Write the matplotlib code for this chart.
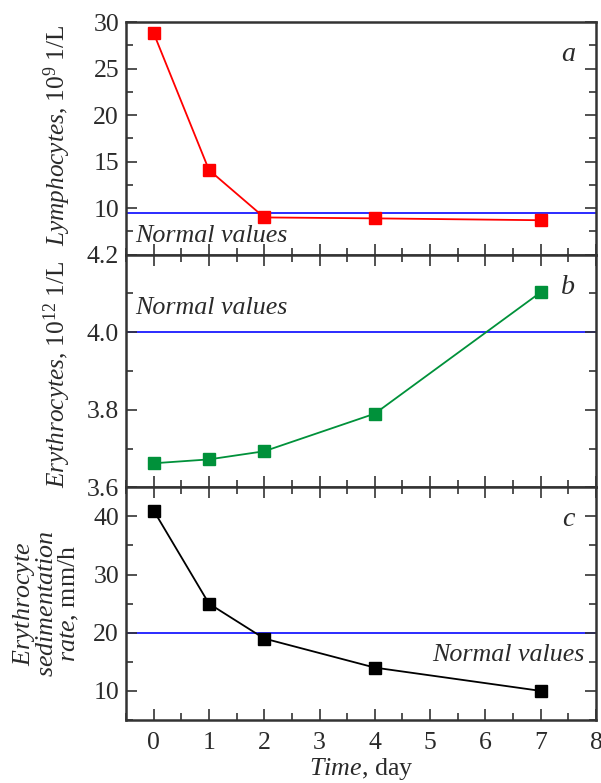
import numpy as np
import matplotlib
matplotlib.use("Agg")
import matplotlib.pyplot as plt
from matplotlib.ticker import MultipleLocator

plt.rcParams["font.family"] = ["Liberation Serif", "DejaVu Serif"]
plt.rcParams["mathtext.fontset"] = "custom"
plt.rcParams["mathtext.rm"] = "Liberation Serif"
plt.rcParams["mathtext.it"] = "Liberation Serif:italic"

# data
days = [0, 1, 2, 4, 7]
lymphocytes = [28.8, 14.1, 9.0, 8.9, 8.7]
erythrocytes = [3.662, 3.672, 3.693, 3.79, 4.103]
esr = [41, 25, 19, 14, 10]

normal_lymph = 9.5
normal_eryth = 4.0
normal_esr = 20

fig, axes = plt.subplots(3, 1, figsize=(6.01, 7.83), dpi=100, sharex=True)
fig.subplots_adjust(left=0.2097, right=0.9917, top=0.9719, bottom=0.0805, hspace=0)

spine_col = "#333333"
txt_col = "#2a2a2a"
fs = 18.7
lfs = 18.2
tfs = 18.5

panels = [
    (axes[0], lymphocytes, "#ff0000", normal_lymph, (5, 30), 5, 2.5, "a"),
    (axes[1], erythrocytes, "#00913a", normal_eryth, (3.6, 4.2), 0.2, 0.1, "b"),
    (axes[2], esr, "#000000", normal_esr, (5, 45), 10, 5, "c"),
]

for ax, vals, col, norm, ylim, maj, mnr, lab in panels:
    ax.axhline(norm, color="#1a1aff", lw=1.3, zorder=1)
    ax.plot(days, vals, color=col, lw=1.3, marker="s", ms=8.5, zorder=3)
    ax.set_ylim(*ylim)
    ax.set_xlim(-0.5, 8)
    ax.yaxis.set_major_locator(MultipleLocator(maj))
    ax.yaxis.set_minor_locator(MultipleLocator(mnr))
    ax.xaxis.set_major_locator(MultipleLocator(1))
    ax.xaxis.set_minor_locator(MultipleLocator(0.5))
    ax.tick_params(which="both", direction="in", left=True, right=True,
                   bottom=True, top=(lab != "a"), color=spine_col,
                   labelsize=tfs, labelcolor=txt_col)
    ax.tick_params(which="major", length=8, width=1.2, pad=5)
    ax.tick_params(which="minor", length=5, width=1.2)
    ax.tick_params(axis="x", which="major", pad=9)
    for s in ax.spines.values():
        s.set_color(spine_col)
        s.set_linewidth(1.8)
    ax.text(0.955, 0.86, lab, transform=ax.transAxes, fontsize=fs + 1.5,
            style="italic", ha="right", va="center", color=txt_col)

axes[0].yaxis.set_major_formatter(plt.FuncFormatter(lambda v, p: "" if v < 10 else f"{v:.0f}"))
axes[1].yaxis.set_major_formatter(plt.FuncFormatter(lambda v, p: f"{v:.1f}"))
axes[2].yaxis.set_major_formatter(plt.FuncFormatter(lambda v, p: "" if v < 10 or v > 40 else f"{v:.0f}"))

axes[0].text(0.02, 0.08, "Normal values", transform=axes[0].transAxes,
             fontsize=fs, style="italic", ha="left", va="center", color=txt_col)
axes[1].text(0.02, 0.77, "Normal values", transform=axes[1].transAxes,
             fontsize=fs, style="italic", ha="left", va="center", color=txt_col)
axes[2].text(0.975, 0.28, "Normal values", transform=axes[2].transAxes,
             fontsize=fs, style="italic", ha="right", va="center", color=txt_col)

axes[0].set_ylabel(r"$\mathit{Lymphocytes}$, 10$^9$ 1/L", fontsize=lfs, color=txt_col)
axes[1].set_ylabel(r"$\mathit{Erythrocytes}$, 10$^{12}$ 1/L", fontsize=lfs, color=txt_col)
axes[2].set_ylabel(r"$\mathit{Erythrocyte}$" "\n" r"$\mathit{sedimentation}$" "\n" r"$\mathit{rate}$, mm/h",
                   fontsize=fs, color=txt_col, linespacing=0.95, multialignment="center")
axes[0].yaxis.set_label_coords(-0.113, 0.515)
axes[1].yaxis.set_label_coords(-0.113, 0.485)
axes[2].yaxis.set_label_coords(-0.096, 0.5)

axes[2].set_xlabel(r"$\mathit{Time}$, day", fontsize=fs, color=txt_col, labelpad=1)

fig.savefig("out.png", dpi=100)
